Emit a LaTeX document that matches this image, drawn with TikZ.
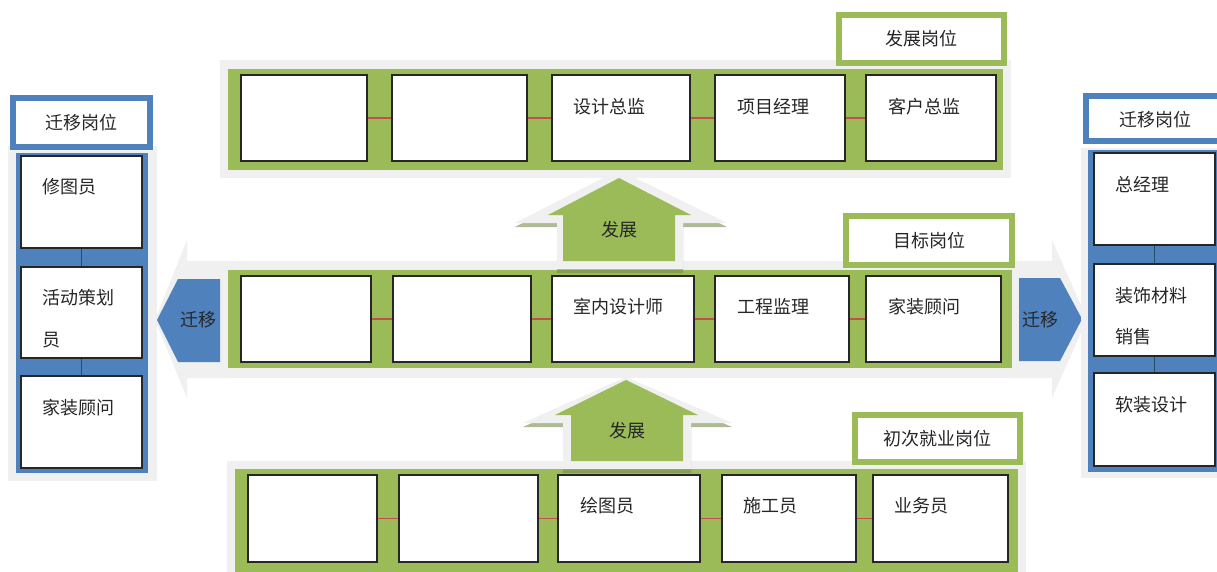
\documentclass[tikz,border=0pt]{standalone}
\usepackage{fontspec}
\setmainfont{Noto Sans CJK SC}
\usetikzlibrary{fit,calc}
\definecolor{gr}{RGB}{155,187,89}
\definecolor{bl}{RGB}{79,129,189}
\definecolor{lg}{RGB}{240,240,240}
\definecolor{rc}{RGB}{192,80,77}
\definecolor{tc}{RGB}{33,80,95}
\definecolor{sh}{RGB}{120,140,80}
\tikzset{
  wbox/.style={draw=black!85, line width=1.1pt, fill=white, inner sep=0pt},
  txt/.style={font=\fontsize{18}{22}\selectfont, text=black!85, inner sep=0pt, anchor=west},
  atxt/.style={font=\fontsize{18}{22}\selectfont, text=black!85, inner sep=0pt},
  gbox/.style={draw=gr, line width=6pt, fill=white, inner sep=0pt},
  bbox/.style={draw=bl, line width=6pt, fill=white, inner sep=0pt},
  redc/.style={draw=rc, line width=1.2pt},
  tealc/.style={draw=tc, line width=1.2pt},
}
\newcommand\wbx[5]{\node[wbox, fit={(#2,#3)(#4,#5)}] (#1) {};}
\begin{document}
\begin{tikzpicture}[x=1pt,y=-1pt]
\useasboundingbox (0,0) rectangle (1217,572);
\fill[white] (0,0) rectangle (1217,572);

% ---------- row backgrounds ----------
\fill[lg] (220,60) rectangle (1011,178);
\fill[gr] (228,69) rectangle (1003,170);
% gray arrows left/right (behind middle row)
\fill[lg] (155,320) -- (187,240) -- (187,261) -- (228,261) -- (228,378) -- (187,378) -- (187,398) -- cycle;
\fill[lg] (1010,261) -- (1052,261) -- (1052,240) -- (1087,319) -- (1052,398) -- (1052,378) -- (1010,378) -- cycle;
\fill[lg] (220,261) rectangle (1017,378);
\fill[gr] (228,270) rectangle (1012,368);
\fill[lg] (227,461) rectangle (1026,572);
\fill[gr] (235,469) rectangle (1018,572);

% ---------- upper 发展 arrow ----------
\fill[sh, opacity=0.6] (619,174) -- (727,227) -- (683,227) -- (683,273) -- (557,273) -- (557,227) -- (515,227) -- cycle;
\fill[lg] (619,170) -- (727,223) -- (683,223) -- (683,269) -- (557,269) -- (557,223) -- (515,223) -- cycle;
\fill[gr] (619,178) -- (691,215) -- (675,215) -- (675,261) -- (563,261) -- (563,215) -- (548,215) -- cycle;
\node[atxt] (fz1) at (619,230) {发展};

% ---------- lower 发展 arrow ----------
\fill[sh, opacity=0.6] (626,381) -- (732,427) -- (691,427) -- (691,473) -- (563,473) -- (563,427) -- (523,427) -- cycle;
\fill[lg] (626,377) -- (732,423) -- (691,423) -- (691,469) -- (563,469) -- (563,423) -- (523,423) -- cycle;
\fill[gr] (626,380) -- (698,415) -- (683,415) -- (683,461) -- (571,461) -- (571,415) -- (555,415) -- cycle;
\node[atxt] (fz2) at (627,431) {发展};

% ---------- 迁移 arrows ----------
\fill[bl] (157,320) -- (178,279) -- (220,279) -- (220,362) -- (178,362) -- cycle;
\node[atxt] (qy1) at (198,320) {迁移};
\fill[bl] (1019,278) -- (1060,278) -- (1082,319) -- (1060,361) -- (1019,361) -- cycle;
\node[atxt] (qy2) at (1040,320) {迁移};

% ---------- top row boxes ----------
\wbx{t1}{241}{75}{367}{161}
\wbx{t2}{392}{75}{527}{161}
\wbx{t3}{552}{75}{690}{161}
\wbx{t4}{715}{75}{845}{161}
\wbx{t5}{866}{75}{996}{161}
\node[txt] (t3t) at (573,107) {设计总监};
\node[txt] (t4t) at (737,107) {项目经理};
\node[txt] (t5t) at (888,107) {客户总监};
\draw[redc] (t1.east) -- (t2.west);
\draw[redc] (t2.east) -- (t3.west);
\draw[redc] (t3.east) -- (t4.west);
\draw[redc] (t4.east) -- (t5.west);
\node[gbox, fit={(839,15)(1004,63)}] (fzgw) {};
\node[atxt] (fzgwt) at (fzgw.center) {发展岗位};

% ---------- middle row boxes ----------
\wbx{m1}{241}{276}{371}{362}
\wbx{m2}{393}{276}{531}{362}
\wbx{m3}{552}{276}{694}{362}
\wbx{m4}{715}{276}{849}{362}
\wbx{m5}{866}{276}{1001}{362}
\node[txt] (m3t) at (573,307) {室内设计师};
\node[txt] (m4t) at (737,307) {工程监理};
\node[txt] (m5t) at (888,307) {家装顾问};
\draw[redc] (m1.east) -- (m2.west);
\draw[redc] (m2.east) -- (m3.west);
\draw[redc] (m3.east) -- (m4.west);
\draw[redc] (m4.east) -- (m5.west);
\node[gbox, fit={(846,216)(1012,265)}] (mbgw) {};
\node[atxt] (mbgwt) at (mbgw.center) {目标岗位};

% ---------- bottom row boxes ----------
\wbx{b1}{248}{475}{377}{562}
\wbx{b2}{399}{475}{538}{562}
\wbx{b3}{558}{475}{700}{562}
\wbx{b4}{722}{475}{856}{562}
\wbx{b5}{873}{475}{1008}{562}
\node[txt] (b3t) at (580,506) {绘图员};
\node[txt] (b4t) at (743,506) {施工员};
\node[txt] (b5t) at (894,506) {业务员};
\draw[redc] (b1.east) -- (b2.west);
\draw[redc] (b2.east) -- (b3.west);
\draw[redc] (b3.east) -- (b4.west);
\draw[redc] (b4.east) -- (b5.west);
\node[gbox, fit={(855,415)(1020,462)}] (ccgw) {};
\node[atxt] (ccgwt) at (ccgw.center) {初次就业岗位};

% ---------- left column ----------
\fill[lg] (8,146) rectangle (157,481);
\fill[bl] (16,153) rectangle (148,473);
\wbx{l1}{21}{156}{142}{248}
\wbx{l2}{21}{267}{142}{358}
\wbx{l3}{21}{376}{142}{468}
\draw[tealc] (l1.south) -- (l2.north);
\draw[tealc] (l2.south) -- (l3.north);
\node[txt] (l1t) at (42,187) {修图员};
\node[txt] (l2t) at (42,298) {活动策划};
\node[txt] (l2u) at (42,340) {员};
\node[txt] (l3t) at (42,408) {家装顾问};
\node[bbox, fit={(13,98)(150,147)}] (lqgw) {};
\node[atxt] (lqgwt) at (lqgw.center) {迁移岗位};

% ---------- right column ----------
\fill[lg] (1081,148) rectangle (1217,478);
\fill[bl] (1088,150) rectangle (1217,472);
\wbx{r1}{1094}{153}{1215}{245}
\wbx{r2}{1094}{264}{1215}{356}
\wbx{r3}{1094}{373}{1215}{466}
\draw[tealc] (r1.south) -- (r2.north);
\draw[tealc] (r2.south) -- (r3.north);
\node[txt] (r1t) at (1115,185) {总经理};
\node[txt] (r2t) at (1115,296) {装饰材料};
\node[txt] (r2u) at (1115,337) {销售};
\node[txt] (r3t) at (1115,405) {软装设计};
\node[bbox, fit={(1086,96)(1232,141)}] (rqgw) {};
\node[atxt] (rqgwt) at (1155,120) {迁移岗位};
\end{tikzpicture}
\end{document}
